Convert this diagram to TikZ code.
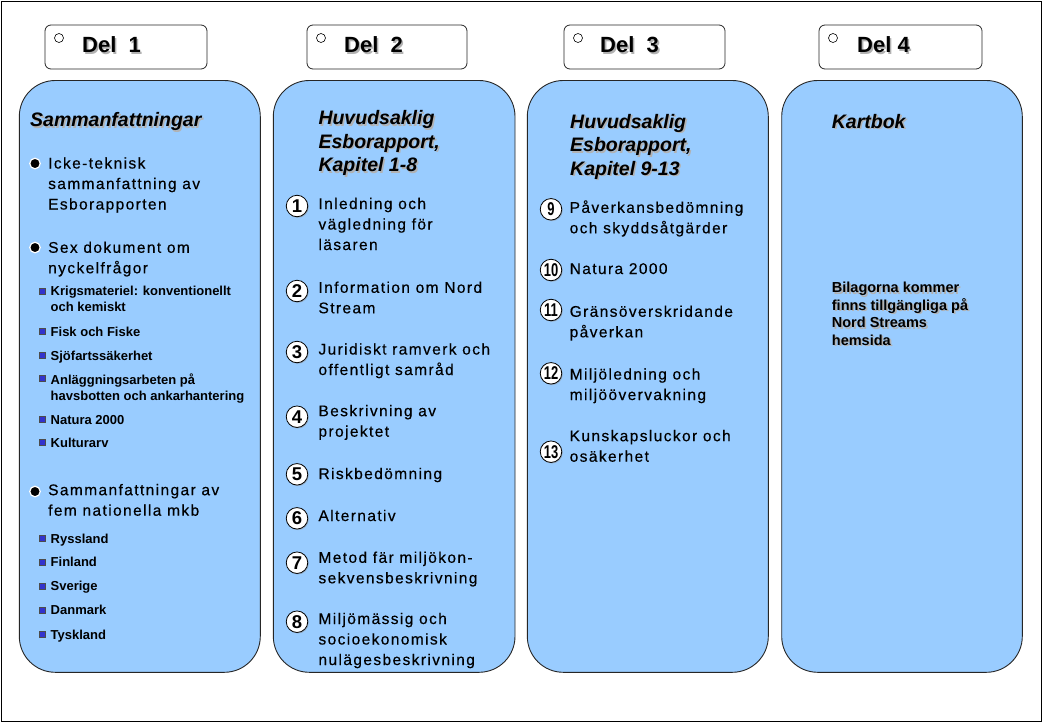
\documentclass[tikz,border=0pt]{standalone}
\usepackage{fontspec}
\setmainfont{Liberation Sans}
\newfontfamily\itemfont[LetterSpace=9,FakeBold=0.35]{Liberation Sans}
\usetikzlibrary{shadows}
\definecolor{panelblue}{HTML}{99CCFF}
\definecolor{squareblue}{HTML}{3333CC}
% text with a grey drop shadow: name, x, y, style, text
\newcommand\shtext[5]{%
 \node[#4,text=black!30] at (#2+1.6,#3+1.6) {#5};
 \node[#4] (#1) at (#2,#3) {#5};}
\begin{document}
\begin{tikzpicture}[x=1pt,y=-1pt,
 panel/.style={draw=black!85,fill=panelblue,rounded corners=36pt,line width=0.9pt},
 delbox/.style={draw=black!85,fill=white,rounded corners=6pt,line width=0.8pt},
 deltext/.style={anchor=base west,inner sep=0,font=\bfseries\fontsize{22}{22}\selectfont},
 % multi-line texts are placed by the baseline of their last line
 head/.style={anchor=base west,inner sep=0,align=left,font=\bfseries\itshape\fontsize{19.5}{23.5}\selectfont},
 item/.style={anchor=base west,inner sep=0,align=left,font=\itemfont\fontsize{15.5}{20.5}\selectfont},
 subitem/.style={anchor=base west,inner sep=0,align=left,font=\bfseries\fontsize{13}{16}\selectfont},
 note/.style={anchor=base west,inner sep=0,align=left,font=\bfseries\fontsize{14.5}{17.5}\selectfont},
 ring/.style={circle,draw=black,fill=white,minimum size=9pt,inner sep=0,line width=0.6pt},
 dot/.style={circle,draw=white,fill=black,minimum size=10.5pt,inner sep=0,line width=1.2pt},
 sq/.style={rectangle,draw=black!70,fill=squareblue,minimum size=6pt,inner sep=0,line width=0.5pt},
 num/.style={circle,draw=black,fill=white,minimum size=21.5pt,inner sep=0,line width=0.8pt,
  drop shadow={shadow xshift=1pt,shadow yshift=-1pt,fill=black!45},
  font=\bfseries\fontsize{18.5}{18.5}\selectfont}]
\useasboundingbox (0,0) rectangle (1043,723);
\draw[line width=0.8pt] (1.5,1.5) rectangle (1041,721);

% the four parts
\foreach \x/\w/\tx/\lab [count=\i] in {45/162/82/{Del\ \ 1}, 307/160/344/{Del\ \ 2},
  564/161/600/{Del\ \ 3}, 819/163/857/{Del 4}}
{
 \draw[delbox] (\x,25) rectangle (\x+\w,69);
 \node[ring] (r\i) at (\x+14,38) {};
 \shtext{del\i}{\tx}{52.7}{deltext}{\lab}
}
\foreach \x/\w in {19.3/241, 273.3/241.7, 527.3/241, 781.7/240.6}
 \draw[panel] (\x,80.5) rectangle (\x+\w,672.3);

% Del 1
\shtext{h1}{30}{126.7}{head}{Sammanfattningar}
\foreach \y/\by/\txt [count=\i] in {209.5/163.5/{Icke-teknisk\\sammanfattning av\\Esborapporten},
  273.3/247.5/{Sex dokument om\\nyckelfrågor}, 515.7/491.5/{Sammanfattningar av\\fem nationella mkb}}
{
 \node[dot] (b\i) at (35,\by) {};
 \node[item] (bt\i) at (48,\y) {\txt};
}
\foreach \y/\sy/\txt [count=\i] in {311.7/291.7/{Krigsmateriel: konventionellt\\och kemiskt},
  336/331.2/{Fisk och Fiske}, 360/355.2/{Sjöfartssäkerhet},
  400/378.5/{Anläggningsarbeten på\\havsbotten och ankarhantering},
  424/419.2/{Natura 2000}, 447.3/442.5/{Kulturarv}, 543.3/538.5/{Ryssland},
  566.7/561.9/{Finland}, 590.7/585.9/{Sverige}, 614.7/609.9/{Danmark}, 639/634.2/{Tyskland}}
{
 \node[sq] (s\i) at (42,\sy) {};
 \node[subitem] (st\i) at (50.5,\y) {\txt};
}

% Del 2
\shtext{h2}{318.3}{171.7}{head}{Huvudsaklig\\Esborapport,\\Kapitel 1-8}
\foreach \n/\cy/\y/\txt in {1/206/250/{Inledning och\\vägledning för\\läsaren},
  2/291/313.3/{Information om Nord\\Stream}, 3/352/375/{Juridiskt ramverk och\\offentligt samråd},
  4/416.7/436.7/{Beskrivning av\\projektet}, 5/474.3/479/{Riskbedömning},
  6/518.3/521/{Alternativ}, 7/562.7/583.3/{Metod fär miljökon-\\sekvensbeskrivning},
  8/621.7/665/{Miljömässig och\\socioekonomisk\\nulägesbeskrivning}}
{
 \node[num] (n\n) at (297,\cy) {\n};
 \node[item] (kap\n) at (318.3,\y) {\txt};
}

% Del 3
\shtext{h3}{570}{175}{head}{Huvudsaklig\\Esborapport,\\Kapitel 9-13}
\foreach \n/\cy/\y/\txt in {9/209.3/233.3/{Påverkansbedömning\\och skyddsåtgärder},
  10/270/274/{Natura 2000}, 11/310/337.3/{Gränsöverskridande\\påverkan},
  12/373.3/400/{Miljöledning och\\miljöövervakning}, 13/451.7/461.7/{Kunskapsluckor och\\osäkerhet}}
{
 \node[num] (n\n) at (551,\cy) {\scalebox{0.7}[1]{\n}};
 \node[item] (kap\n) at (569.5,\y) {\txt};
}

% Del 4
\shtext{h4}{831.7}{128.3}{head}{Kartbok}
\shtext{bilagor}{831.7}{345}{note}{Bilagorna kommer\\finns tillgängliga på\\Nord Streams\\hemsida}
\end{tikzpicture}
\end{document}
